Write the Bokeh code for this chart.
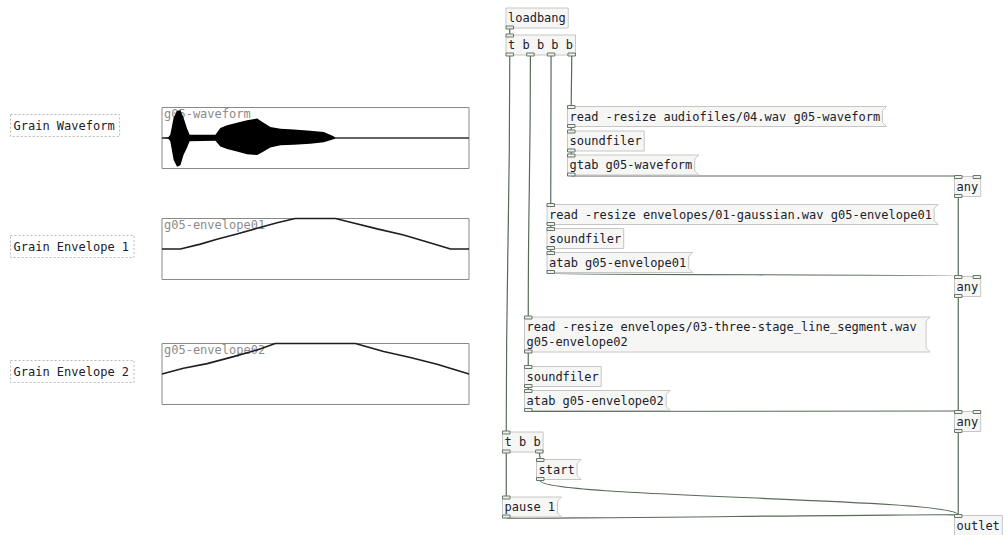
import numpy as np
from bokeh.plotting import figure
from bokeh.models import Range1d, ColumnDataSource
from bokeh.core.properties import value
from bokeh.embed import file_html
from bokeh.resources import INLINE

# ---------------- data (array contents) ----------------
# sample position in % of table length, peak amplitude (-1..1 graph range)
wave_pos = [0, 2.0, 2.7, 3.8, 4.9, 6.0, 7.0, 8.1, 9.0, 17.4, 19.0, 21.2, 24.4,
            27.7, 31.0, 33.1, 35.3, 38.6, 42.9, 48.3, 52.7, 55.9, 56.5, 100]
wave_upper = [0, 0.02, 0.11, 0.67, 0.89, 0.91, 0.67, 0.33, 0.11, 0.11, 0.33, 0.42, 0.50,
              0.58, 0.64, 0.50, 0.36, 0.30, 0.28, 0.24, 0.20, 0.06, 0, 0]
wave_lower = [0, 0.02, 0.11, 0.72, 0.94, 0.89, 0.56, 0.33, 0.11, 0.09, 0.28, 0.36, 0.44,
              0.53, 0.56, 0.44, 0.31, 0.24, 0.22, 0.19, 0.14, 0.04, 0, 0]

env1_pos = [0, 6.0, 12.5, 17.9, 24.4, 31.0, 37.5, 43.4, 56.5, 61.4, 70.1, 78.7, 86.4, 94.0, 100]
env1_values = [0, 0, 0.16, 0.32, 0.49, 0.68, 0.86, 1.0, 1.0, 0.88, 0.66, 0.46, 0.23, 0, 0]

env2_pos = [0, 7.0, 14.7, 23.3, 31.0, 36.9, 63.0, 72.2, 80.9, 89.6, 100]
env2_values = [0, 0.19, 0.34, 0.57, 0.79, 1.0, 1.0, 0.74, 0.54, 0.32, 0]

array_names = ["g05-waveform", "g05-envelope01", "g05-envelope02"]
comment_texts = ["Grain Waveform", "Grain Envelope 1", "Grain Envelope 2"]

box_texts = [
    ["loadbang"],
    ["t b b b b"],
    ["read -resize audiofiles/04.wav g05-waveform"],
    ["soundfiler"],
    ["gtab g05-waveform"],
    ["any"],
    ["read -resize envelopes/01-gaussian.wav g05-envelope01"],
    ["soundfiler"],
    ["atab g05-envelope01"],
    ["any"],
    ["read -resize envelopes/03-three-stage_line_segment.wav", "g05-envelope02"],
    ["soundfiler"],
    ["atab g05-envelope02"],
    ["any"],
    ["t b b"],
    ["start"],
    ["pause 1"],
    ["outlet"],
]
box_kinds = ["obj", "obj", "msg", "obj", "msg", "obj", "msg", "obj", "msg", "obj",
             "msg", "obj", "msg", "obj", "obj", "msg", "msg", "obj"]
box_inlets = [0, 1, 1, 1, 1, 2, 1, 1, 1, 2, 1, 1, 1, 2, 1, 1, 1, 1]
box_outlets = [1, 4, 1, 1, 1, 1, 1, 1, 1, 1, 1, 1, 1, 1, 2, 1, 1, 0]

# (source box, outlet, target box, inlet)
connections = [
    (0, 0, 1, 0), (1, 0, 14, 0), (1, 1, 10, 0), (1, 2, 6, 0), (1, 3, 2, 0),
    (2, 0, 3, 0), (3, 0, 4, 0), (4, 0, 5, 0), (5, 0, 9, 0),
    (6, 0, 7, 0), (7, 0, 8, 0), (8, 0, 9, 0), (9, 0, 13, 0),
    (10, 0, 11, 0), (11, 0, 12, 0), (12, 0, 13, 0), (13, 0, 17, 0),
    (14, 0, 16, 0), (14, 1, 15, 0), (15, 0, 17, 0), (16, 0, 17, 0),
]

# ---------------- layout (patch coordinates, y grows downward) ----------------
box_left = [505.5, 505.5, 567, 567, 567, 954, 546.5, 546.5, 546.5, 954,
            524, 524, 524, 954, 502, 536, 502, 954]
box_center = [17.5, 44.5, 116, 140.5, 164.5, 186, 214, 238, 262, 286,
              334, 376, 400, 421, 441.5, 469, 506.5, 525]
box_chars = [None] * 18
box_chars[10] = 55

graph_left, graph_right = 161.5, 468.5
graph_tops = [107, 218, 343]
graph_h = 61
comment_centers = [125, 246, 371]

CHW = 7.22
FONT = value("DejaVu Sans Mono")
FSIZE = value("12px")
TXT = "#20202c"
CORD = "#5a6a5a"

W, H = 1004, 535
XR = (0, W)
YR = (H, 0)

p = figure(width=W, height=H, x_range=Range1d(*XR), y_range=Range1d(*YR),
           output_backend="svg", toolbar_location=None, min_border=0,
           x_axis_type=None, y_axis_type=None)
p.grid.visible = False
p.outline_line_color = None
p.background_fill_color = "white"
p.border_fill_color = "white"


def sub_range(lo, hi, pix_lo, pix_hi, f0, f1):
    b = (hi - lo) / (pix_hi - pix_lo)
    return Range1d(start=lo + b * (f0 - pix_lo), end=lo + b * (f1 - pix_lo))


# ---------------- graphs (garrays) ----------------
series = [
    (wave_pos, wave_upper, wave_lower),
    (env1_pos, env1_values, None),
    (env2_pos, env2_values, None),
]
for gi, (name, top) in enumerate(zip(array_names, graph_tops)):
    bottom = top + graph_h
    p.quad(left=[graph_left], right=[graph_right], top=[top], bottom=[bottom],
           fill_color="white", line_color="#8a8a8a", line_width=1)
    p.text(x=[graph_left + 2], y=[top + 6.5], text=[name], text_font=FONT,
           text_font_size=FSIZE, text_color="#8c8c8c", text_baseline="middle",
           text_align="left")
    xn, yn = "gx%d" % gi, "gy%d" % gi
    p.extra_x_ranges[xn] = sub_range(0, 100, graph_left, graph_right, XR[0], XR[1])
    p.extra_y_ranges[yn] = sub_range(-1, 1, bottom, top, YR[0], YR[1])
    pos, a, b = series[gi]
    if b is not None:
        src = ColumnDataSource(dict(x=pos, y1=list(a), y2=[-v for v in b]))
        p.line(x=[0, 100], y=[0, 0], line_color="#303030", line_width=1.3,
               x_range_name=xn, y_range_name=yn)
        p.varea(x="x", y1="y1", y2="y2", source=src, fill_color="black",
                x_range_name=xn, y_range_name=yn)
    else:
        p.line(x=pos, y=a, line_color="#1e1e1e", line_width=1.6,
               x_range_name=xn, y_range_name=yn)

# ---------------- comments ----------------
for txt, cy in zip(comment_texts, comment_centers):
    p.quad(left=[10], right=[13 + len(txt) * CHW + 5], top=[cy - 11], bottom=[cy + 11],
           fill_color=None, line_color="#b8b8b8", line_dash="2 2", line_width=1)
    p.text(x=[13], y=[cy], text=[txt], text_font=FONT, text_font_size=FSIZE,
           text_color=TXT, text_baseline="middle", text_align="left")

# ---------------- boxes geometry ----------------
IOW = 7.5
boxes = []
for i, lines in enumerate(box_texts):
    n = box_chars[i] if box_chars[i] else max(len(s) for s in lines)
    w = n * CHW + 4.5
    h = 20 if len(lines) == 1 else 35
    x0 = box_left[i]
    y0 = box_center[i] - h / 2
    boxes.append((x0, y0, x0 + w, y0 + h))


def nlet_x(i, k, n):
    x0, y0, x1, y1 = boxes[i]
    if n <= 1:
        return x0
    return x0 + (x1 - x0 - IOW) * k / (n - 1)


# ---------------- cords ----------------
cx0, cy0, cx1, cy1, ccx0, ccy0, ccx1, ccy1 = [], [], [], [], [], [], [], []
for s, o, t, k in connections:
    xs = nlet_x(s, o, box_outlets[s]) + IOW / 2
    ys = boxes[s][3] + 1
    xt = nlet_x(t, k, box_inlets[t]) + IOW / 2
    yt = boxes[t][1] - 0.5
    d = abs(yt - ys) * 0.5
    cx0.append(xs); cy0.append(ys); cx1.append(xt); cy1.append(yt)
    ccx0.append(xs); ccy0.append(ys + d); ccx1.append(xt); ccy1.append(yt - d)
p.bezier(x0=cx0, y0=cy0, x1=cx1, y1=cy1, cx0=ccx0, cy0=ccy0, cx1=ccx1, cy1=ccy1,
         line_color=CORD, line_width=1.2)

# ---------------- boxes ----------------
ol, orr, ot, ob = [], [], [], []
mxs, mys = [], []
for i, (x0, y0, x1, y1) in enumerate(boxes):
    if box_kinds[i] == "obj":
        ol.append(x0); orr.append(x1); ot.append(y0); ob.append(y1)
    else:
        mxs.append([x0, x1 + 4, x1, x1, x1 + 4, x0])
        mys.append([y0, y0, y0 + 4, y1 - 4, y1, y1])
p.quad(left=ol, right=orr, top=ot, bottom=ob, fill_color="#f6f7f5",
       line_color="#c6c6c6", line_width=1)
p.patches(xs=mxs, ys=mys, fill_color="#f6f7f5", line_color="#c6c6c6", line_width=1)

# ---------------- iolets ----------------
il, ir, it, ib = [], [], [], []
for i, (x0, y0, x1, y1) in enumerate(boxes):
    for k in range(box_inlets[i]):
        xx = nlet_x(i, k, box_inlets[i])
        il.append(xx); ir.append(xx + IOW); it.append(y0 - 1); ib.append(y0 + 2)
    for k in range(box_outlets[i]):
        xx = nlet_x(i, k, box_outlets[i])
        il.append(xx); ir.append(xx + IOW); it.append(y1 - 2); ib.append(y1 + 1)
p.quad(left=il, right=ir, top=it, bottom=ib, fill_color="#eef0ec",
       line_color="#66776a", line_width=1)

# ---------------- box texts ----------------
tx, ty, tt = [], [], []
for i, lines in enumerate(box_texts):
    x0, y0, x1, y1 = boxes[i]
    if len(lines) == 1:
        tx.append(x0 + 2); ty.append(box_center[i]); tt.append(lines[0])
    else:
        for j, s in enumerate(lines):
            tx.append(x0 + 2); ty.append(box_center[i] - 7.2 + 14.4 * j); tt.append(s)
p.text(x=tx, y=ty, text=tt, text_font=FONT, text_font_size=FSIZE, text_color=TXT,
       text_baseline="middle", text_align="left")

open("out.html", "w").write(file_html(p, INLINE))
